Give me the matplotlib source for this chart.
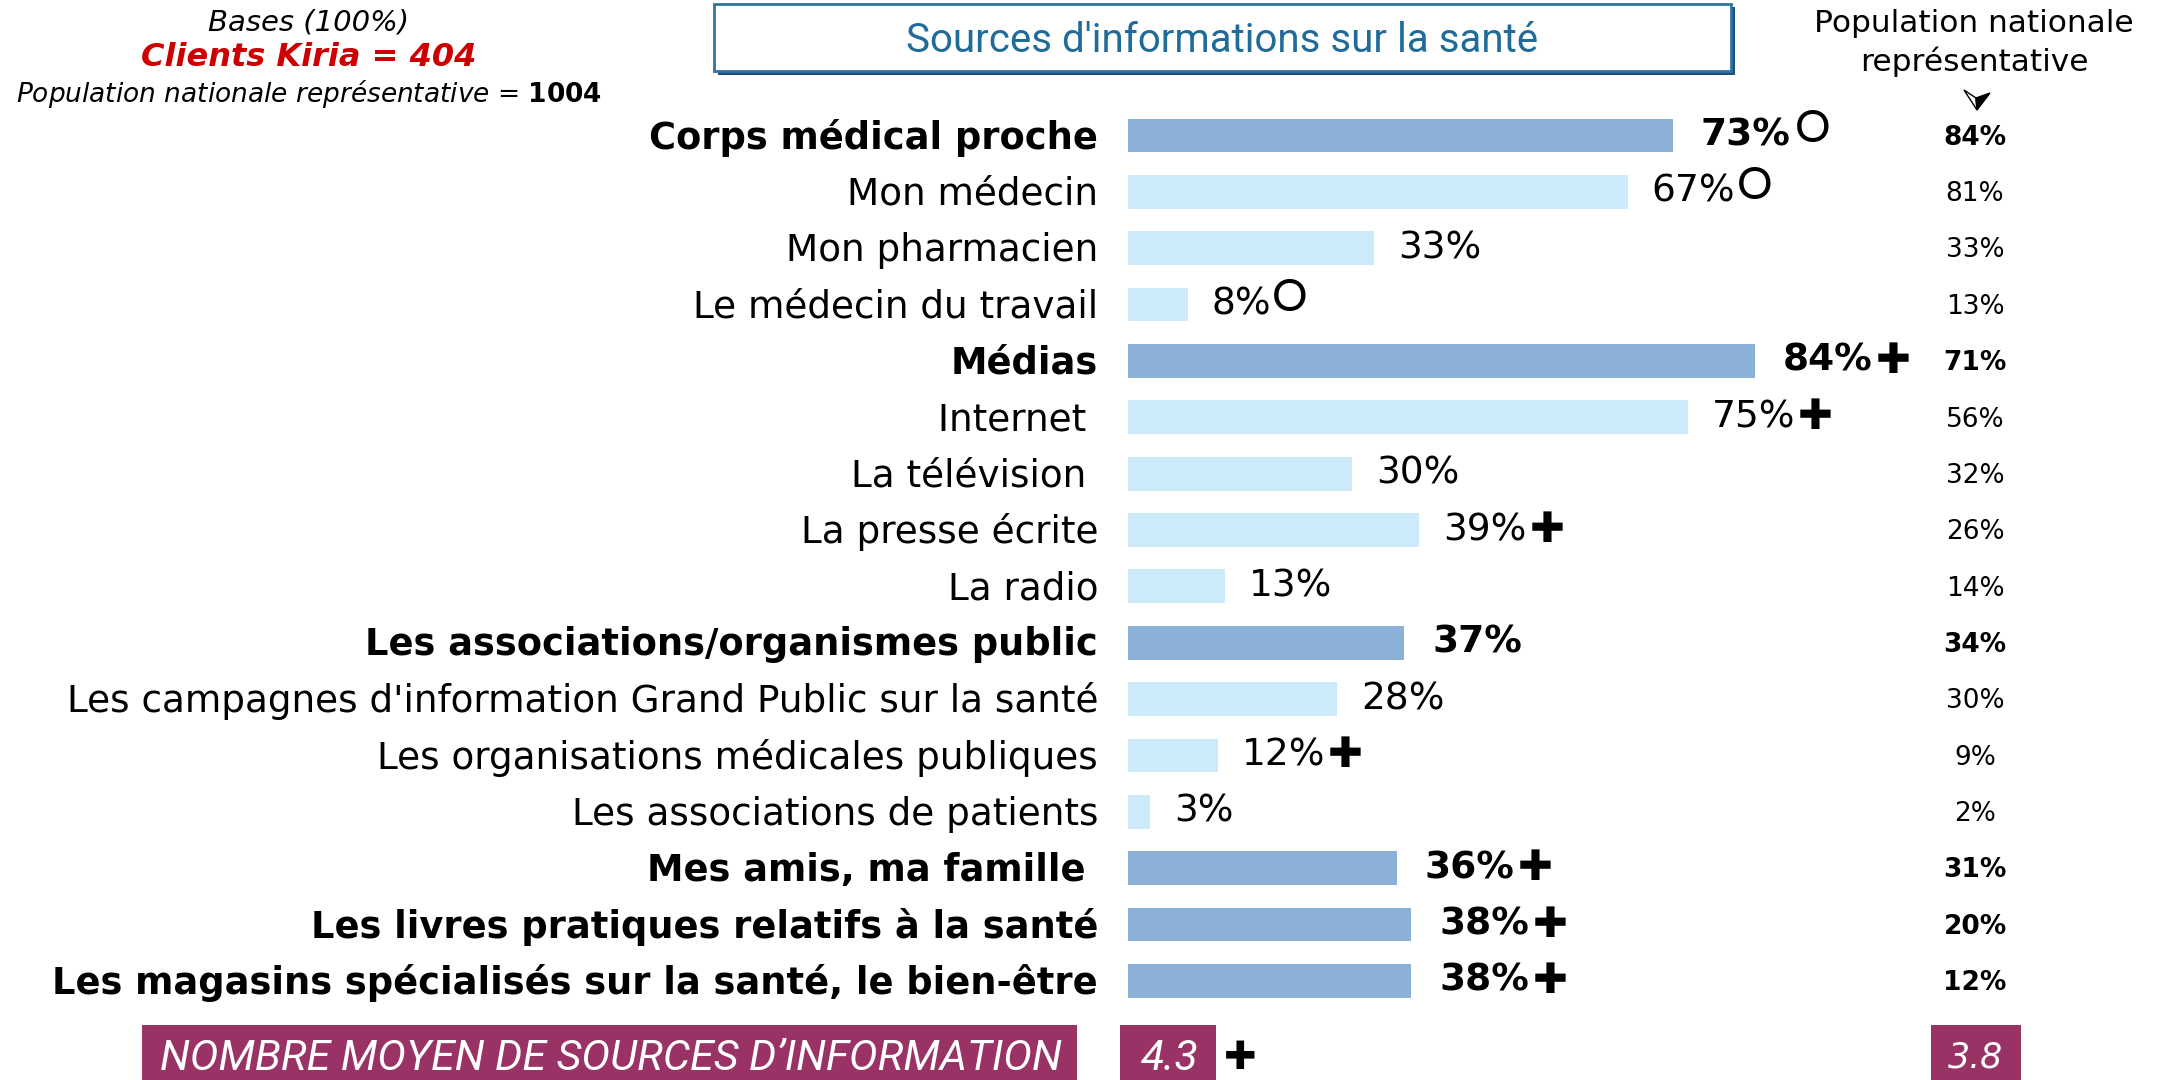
import matplotlib.pyplot as plt
from matplotlib.patches import Rectangle, Polygon
from matplotlib.transforms import blended_transform_factory

# Sources of health information, Kiria clients vs national sample
categories = [
    "Corps médical proche", "Mon médecin", "Mon pharmacien", "Le médecin du travail",
    "Médias", "Internet ", "La télévision ", "La presse écrite", "La radio",
    "Les associations/organismes public",
    "Les campagnes d'information Grand Public sur la santé",
    "Les organisations médicales publiques", "Les associations de patients",
    "Mes amis, ma famille ", "Les livres pratiques relatifs à la santé",
    "Les magasins spécialisés sur la santé, le bien-être",
]
kiria_pct = [73, 67, 33, 8, 84, 75, 30, 39, 13, 37, 28, 12, 3, 36, 38, 38]
national_pct = [84, 81, 33, 13, 71, 56, 32, 26, 14, 34, 30, 9, 2, 31, 20, 12]
is_group = [True, False, False, False, True, False, False, False, False,
            True, False, False, False, True, True, True]
# significance vs national: "+" higher, "o" lower, "" none
signif = ["o", "o", "", "o", "+", "+", "", "+", "", "", "", "+", "", "+", "+", "+"]
mean_sources_kiria = 4.3
mean_sources_national = 3.8

W, H = 2157, 1080
fig = plt.figure(figsize=(W / 100, H / 100), dpi=100)

def fx(px):
    return px / W

def fy(py):
    return 1 - py / H

DARK = "#8CB1D7"
LIGHT = "#CCEAFA"
PURPLE = "#993366"

n = len(categories)
row_h = 56.36
top = 135.5 - row_h / 2
ax = fig.add_axes([fx(1128), fy(top + n * row_h), fx(746), n * row_h / H])
ax.set_xlim(0, 100)
ax.set_ylim(n - 0.5, -0.5)
ax.axis("off")

colors = [DARK if g else LIGHT for g in is_group]
ax.barh(range(n), kiria_pct, height=0.6, color=colors)

lbl_tr = blended_transform_factory(fig.transFigure, ax.transData)
for i, (cat, v, nat, g, s) in enumerate(zip(categories, kiria_pct, national_pct, is_group, signif)):
    fig.text(fx(1098), i + 0.04, cat, transform=lbl_tr, ha="right", va="center",
             fontsize=26.5 if g else 26.9, fontweight="bold" if g else "normal",
             color="black")
    if g:
        t = ax.annotate(f"{v}%", xy=(v, i), xytext=(28, 0), textcoords="offset pixels",
                        ha="left", va="center", fontsize=27, fontweight="semibold")
    else:
        t = ax.annotate(f"{v}%", xy=(v, i), xytext=(24, 0), textcoords="offset pixels",
                        ha="left", va="center", fontsize=27)
    if s == "+":
        ax.annotate("\u271A", xy=(1, 0.5), xycoords=t, xytext=(3, 0),
                    textcoords="offset pixels", ha="left", va="center", fontsize=30)
    elif s == "o":
        ax.annotate("O", xy=(1, 0.66), xycoords=t, xytext=(4 if g else 1, 0),
                    textcoords="offset pixels", ha="left", va="center", fontsize=32,
                    family=["Lato", "DejaVu Sans"])
    fig.text(fx(1975), i + 0.04, f"{nat}%", transform=lbl_tr, ha="center", va="center",
             fontsize=19, fontweight="bold" if g else "normal")

# header, right column
fig.text(fx(1974), fy(23), "Population nationale", ha="center", va="center", fontsize=22.5)
fig.text(fx(1974), fy(62), "représentative", ha="center", va="center", fontsize=22.5)
tip, left, right, notch = (1977, 110), (1964, 90), (1990, 93), (1976, 98)
fig.patches.append(Polygon([(fx(x), fy(y)) for x, y in (tip, left, notch)], closed=True,
                           transform=fig.transFigure, facecolor="white",
                           edgecolor="black", linewidth=1))
fig.patches.append(Polygon([(fx(x), fy(y)) for x, y in (tip, notch, right)], closed=True,
                           transform=fig.transFigure, facecolor="black",
                           edgecolor="black", linewidth=1))

# sample sizes
fig.text(fx(309), fy(22), "Bases (100%)", ha="center", va="center", fontsize=21, style="italic")
fig.text(fx(309), fy(58), "Clients Kiria = 404", ha="center", va="center", fontsize=23,
         style="italic", fontweight="bold", color="#CC0000")
fig.text(fx(309), fy(94), "Population nationale représentative = $\\bf{1004}$",
         ha="center", va="center", fontsize=19, style="italic")

# title box
fig.patches.append(Rectangle((fx(718), fy(75)), fx(1017), 68 / H, transform=fig.transFigure,
                             facecolor="#1F4E79", edgecolor="none"))
fig.patches.append(Rectangle((fx(714), fy(71)), fx(1017), 67 / H, transform=fig.transFigure,
                             facecolor="white", edgecolor="#2E75A6", linewidth=2))
fig.text(fx(1222), fy(40), "Sources d'informations sur la santé", ha="center", va="center",
         fontsize=29, color="#1F6B9A", family=["Roboto", "DejaVu Sans"])

# mean number of sources
fig.patches.append(Rectangle((fx(142), 0), fx(935), 55 / H, transform=fig.transFigure,
                             facecolor=PURPLE, edgecolor="none"))
fig.text(fx(611), fy(1059), "NOMBRE MOYEN DE SOURCES D\u2019INFORMATION", ha="center",
         va="center", fontsize=31, style="italic", color="white",
         family=["Roboto", "DejaVu Sans"])
fig.patches.append(Rectangle((fx(1120), 0), fx(96), 55 / H, transform=fig.transFigure,
                             facecolor=PURPLE, edgecolor="none"))
fig.text(fx(1170), fy(1059), f"{mean_sources_kiria}", ha="center", va="center",
         fontsize=31, style="italic", color="white", family=["Roboto", "DejaVu Sans"])
fig.text(fx(1240), fy(1058), "\u271A", ha="center", va="center", fontsize=28)
fig.patches.append(Rectangle((fx(1931), 0), fx(90), 55 / H, transform=fig.transFigure,
                             facecolor=PURPLE, edgecolor="none"))
fig.text(fx(1976), fy(1057), f"{mean_sources_national}", ha="center", va="center",
         fontsize=25, style="italic", color="white")

fig.savefig("out.png", dpi=100, facecolor="white")
